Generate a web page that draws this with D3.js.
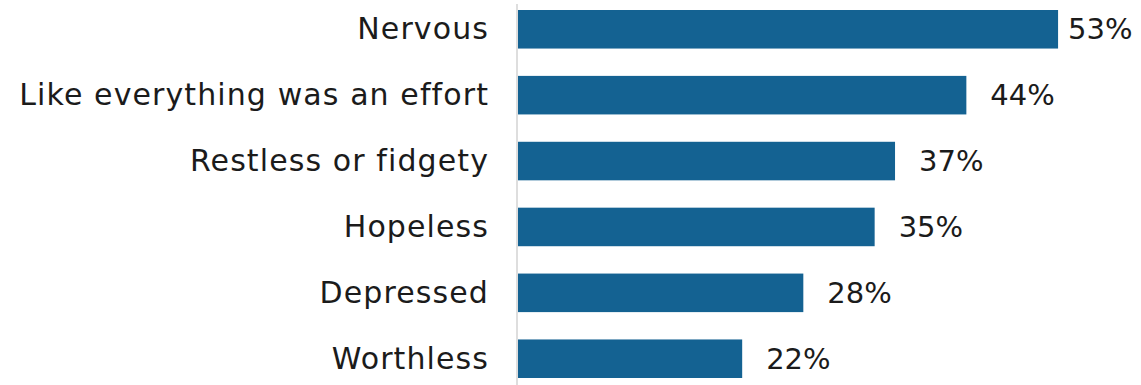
<!DOCTYPE html>
<html><head><meta charset="utf-8">
<script src="https://cdn.jsdelivr.net/npm/d3@7"></script>
<style>body{margin:0;background:#fff}svg{display:block}text{font-family:"DejaVu Sans",sans-serif;fill:#1b1b1b}</style>
</head><body>
<svg id="c" width="1141" height="385"></svg>
<script>
const categories = ["Nervous","Like everything was an effort","Restless or fidgety","Hopeless","Depressed","Worthless"];
const values = [53,44,37,35,28,22];
const valueLabels = ["53%","44%","37%","35%","28%","22%"];

const svg = d3.select("#c");
const x = d3.scaleLinear().domain([0,100]).range([518, 518+1019]);
const y = d3.scaleBand().domain(categories).range([10,378]).paddingInner(0.415).paddingOuter(0);

svg.append("line").attr("x1",517).attr("x2",517).attr("y1",4).attr("y2",385)
  .attr("stroke","#d3d3d3").attr("stroke-width",1.5);

svg.selectAll("rect.bar").data(values).join("rect").attr("class","bar")
  .attr("x",x(0)).attr("y",(d,i)=>y(categories[i]))
  .attr("width",d=>x(d)-x(0)).attr("height",y.bandwidth()).attr("fill","#146292");

svg.selectAll("text.cat").data(categories).join("text").attr("class","cat")
  .attr("x",489).attr("y",d=>y(d)+y.bandwidth()/2+10)
  .attr("text-anchor","end").attr("font-size",30).attr("letter-spacing","1.1px").text(d=>d);

svg.selectAll("text.val").data(values).join("text").attr("class","val")
  .attr("x",d=>Math.min(x(d)+24,1068)).attr("y",(d,i)=>y(categories[i])+y.bandwidth()/2+10)
  .attr("font-size",29).text((d,i)=>valueLabels[i]);
</script></body></html>
